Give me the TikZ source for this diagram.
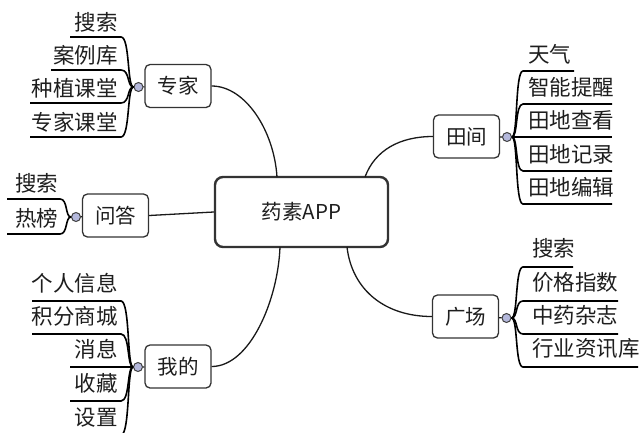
\documentclass[tikz,border=0pt]{standalone}
\usepackage{fontspec}
\newfontfamily\cjk{Noto Sans CJK SC}
\definecolor{hubfill}{RGB}{180,184,220}
\definecolor{ink}{RGB}{30,30,30}
\begin{document}
\begin{tikzpicture}[x=1pt,y=-1pt,
  box/.style={draw=black!80, line width=1.3pt, rounded corners=5pt, fill=white,
    minimum width=66pt, minimum height=43pt, inner sep=0pt, text=ink,
    font=\cjk\fontsize{20.5}{24}\selectfont},
  hub/.style={circle, draw=black!75, line width=1pt, fill=hubfill,
    minimum size=9pt, inner sep=0pt},
  leafL/.style={anchor=base east, inner sep=0pt, text=ink, font=\cjk\fontsize{21.5}{24}\selectfont},
  leafR/.style={anchor=base west, inner sep=0pt, text=ink, font=\cjk\fontsize{21.5}{24}\selectfont},
  br/.style={line width=1.6pt, draw=black},
  con/.style={line width=1.3pt, draw=black!90}]
\useasboundingbox (0,0) rectangle (641,432);
\clip (0,0) rectangle (641,432);

% central node
\node[box, line width=2.4pt, rounded corners=8pt, minimum width=173pt, minimum height=70pt] (c) at (301.5,212) {药素APP};
\coordinate (cz) at (277,177);
\coordinate (ct) at (365,177);
\coordinate (cw) at (280,247);
\coordinate (cg) at (347,247);

% group boxes
\node[box] (zj) at (178,86) {专家};
\node[box] (wd) at (115.5,215.5) {问答};
\node[box] (wo) at (178,366.5) {我的};
\node[box] (tj) at (466.5,136.5) {田间};
\node[box] (gc) at (465.5,316.5) {广场};

% hubs
\node[hub] (hzj) at (138.5,87) {};
\node[hub] (hwd) at (76,217) {};
\node[hub] (hwo) at (138,367) {};
\node[hub] (htj) at (507,137) {};
\node[hub] (hgc) at (506.5,318) {};

\draw[con] (hzj) -- (zj);
\draw[con] (hwd) -- (wd);
\draw[con] (hwo) -- (wo);
\draw[con] (htj) -- (tj);
\draw[con] (hgc) -- (gc);

% main connectors
\draw[con] (zj.east) .. controls (245,86) and (274,130) .. (cz);
\draw[con] (wd.east) -- (c.west);
\draw[con] (cw) .. controls (278,300) and (250,366.5) .. (wo.east);
\draw[con] (ct) .. controls (375,150) and (400,136.5) .. (tj.west);
\draw[con] (cg) .. controls (352,290) and (385,316.5) .. (gc.west);

% leaves of 专家
\foreach \t/\y/\xl [count=\i] in {搜索/37/70, 案例库/70/51, 种植课堂/103/30, 专家课堂/137/30} {
  \node[leafL] (zjt\i) at (118,\y-6.5) {\t};
  \coordinate (zjl\i) at (\xl,\y);
  \draw[br] (hzj.west) .. controls (127,87) and (130,\y) .. (121,\y) -- (zjl\i);
}
% leaves of 问答
\foreach \t/\y/\xl [count=\i] in {搜索/199/7, 热榜/234/7} {
  \node[leafL] (wdt\i) at (58.5,\y-8) {\t};
  \coordinate (wdl\i) at (\xl,\y);
  \draw[br] (hwd.west) .. controls (65,217) and (68,\y) .. (60,\y) -- (wdl\i);
}
% leaves of 我的
\foreach \t/\y/\xl [count=\i] in {个人信息/301/32, 积分商城/334/32, 消息/367/70, 收藏/401/70, 设置/435/70} {
  \node[leafL] (wot\i) at (118,\y-10) {\t};
  \coordinate (wol\i) at (\xl,\y);
  \draw[br] (hwo.west) .. controls (127,367) and (130,\y) .. (121,\y) -- (wol\i);
}
% leaves of 田间
\foreach \t/\y/\xr [count=\i] in {天气/71/574, 智能提醒/104/612, 田地查看/137/612, 田地记录/171/612, 田地编辑/204/612} {
  \node[leafR] (tjt\i) at (528,\y-8.5) {\t};
  \coordinate (tjr\i) at (\xr,\y);
  \draw[br] (htj.east) .. controls (518,137) and (515,\y) .. (523,\y) -- (tjr\i);
}
% leaves of 广场
\foreach \t/\y/\xr [count=\i] in {搜索/267/573, 价格指数/301/618, 中药杂志/334/618, 行业资讯库/367/638} {
  \node[leafR] (gct\i) at (532,\y-10.5) {\t};
  \coordinate (gcr\i) at (\xr,\y);
  \draw[br] (hgc.east) .. controls (518,318) and (515,\y) .. (523,\y) -- (gcr\i);
}
\end{tikzpicture}
\end{document}
